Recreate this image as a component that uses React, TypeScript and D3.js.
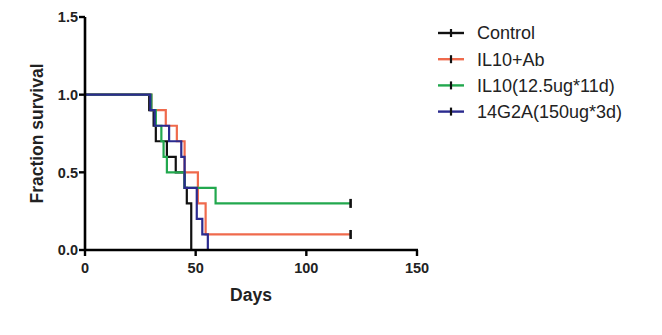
import React from "react";
import * as d3 from "d3";

const seriesNames = ["Control", "IL10+Ab", "IL10(12.5ug*11d)", "14G2A(150ug*3d)"];
const seriesColors = ["#111111", "#ef6a4c", "#22a84e", "#2b2b8f"];

const controlDays = [0, 29, 31, 32, 37, 41, 45, 46, 48];
const controlSurv = [1, 0.9, 0.8, 0.7, 0.6, 0.5, 0.4, 0.3, 0];
const il10AbDays = [0, 30, 36.5, 41.5, 45, 51, 54.5, 120];
const il10AbSurv = [1, 0.9, 0.8, 0.7, 0.5, 0.3, 0.1, 0.1];
const il10Days = [0, 30, 32, 34.5, 35.5, 37, 45, 59, 120];
const il10Surv = [1, 0.9, 0.8, 0.7, 0.6, 0.5, 0.4, 0.3, 0.3];
const g2aDays = [0, 29.5, 31.5, 38, 43.5, 45, 50.5, 53, 55.5];
const g2aSurv = [1, 0.9, 0.8, 0.7, 0.6, 0.4, 0.2, 0.1, 0];

const censored = [false, true, true, false];

const xTicks = [0, 50, 100, 150];
const yTicks = [0, 0.5, 1.0, 1.5];

const W = 662, H = 335;
const left = 85, right = 417, top = 17, bottom = 250;

export default function App() {
  const x = d3.scaleLinear().domain([0, 150]).range([left, right]);
  const y = d3.scaleLinear().domain([0, 1.5]).range([bottom, top]);
  const allDays = [controlDays, il10AbDays, il10Days, g2aDays];
  const allSurv = [controlSurv, il10AbSurv, il10Surv, g2aSurv];
  const line = d3
    .line<[number, number]>()
    .x((d) => x(d[0]))
    .y((d) => y(d[1]))
    .curve(d3.curveStepAfter);
  const font = "Arial, 'Liberation Sans', sans-serif";
  return (
    <svg width={W} height={H} style={{ position: "absolute", left: 0, top: 0 }}>
      <rect width={W} height={H} fill="#fff" />
      {allDays.map((days, i) => {
        const pts = days.map((d, k) => [d, allSurv[i][k]] as [number, number]);
        const last = pts[pts.length - 1];
        return (
          <g key={i}>
            <path d={line(pts) || ""} fill="none" stroke={seriesColors[i]} strokeWidth={2.2} />
            {censored[i] && (
              <line
                x1={x(last[0])}
                x2={x(last[0])}
                y1={y(last[1]) - 4.5}
                y2={y(last[1]) + 4.5}
                stroke="#111"
                strokeWidth={2.6}
              />
            )}
          </g>
        );
      })}
      {/* axes */}
      <line x1={left} x2={left} y1={top} y2={bottom + 1} stroke="#000" strokeWidth={2.6} />
      <line x1={left - 1} x2={right + 1} y1={bottom} y2={bottom} stroke="#000" strokeWidth={2.6} />
      {yTicks.map((t) => (
        <g key={"y" + t}>
          <line x1={left - 6} x2={left} y1={y(t)} y2={y(t)} stroke="#000" strokeWidth={2.4} />
          <text
            x={left - 7}
            y={y(t)}
            dy="0.36em"
            textAnchor="end"
            fontFamily={font}
            fontWeight="bold"
            fontSize={14.5}
            fill="#222"
          >
            {t.toFixed(1)}
          </text>
        </g>
      ))}
      {xTicks.map((t) => (
        <g key={"x" + t}>
          <line x1={x(t)} x2={x(t)} y1={bottom} y2={bottom + 6} stroke="#000" strokeWidth={2.4} />
          <text
            x={x(t)}
            y={bottom + 23}
            textAnchor="middle"
            fontFamily={font}
            fontWeight="bold"
            fontSize={14.5}
            fill="#222"
          >
            {t}
          </text>
        </g>
      ))}
      <text
        x={(left + right) / 2}
        y={301}
        textAnchor="middle"
        fontFamily={font}
        fontWeight="bold"
        fontSize={17.5}
        fill="#222"
      >
        Days
      </text>
      <text
        transform={`translate(43, ${(top + bottom) / 2}) rotate(-90)`}
        textAnchor="middle"
        fontFamily={font}
        fontWeight="bold"
        fontSize={17.5}
        fill="#222"
      >
        Fraction survival
      </text>
      {/* legend */}
      {seriesNames.map((n, i) => {
        const ly = 33 + i * 26.2;
        return (
          <g key={n}>
            <line x1={438} x2={464} y1={ly} y2={ly} stroke={seriesColors[i]} strokeWidth={2.4} />
            <line x1={451} x2={451} y1={ly - 4} y2={ly + 4} stroke="#111" strokeWidth={2.2} />
            <text
              x={477}
              y={ly}
              dy="0.36em"
              fontFamily={font}
              fontSize={18}
              fill="#222"
            >
              {n}
            </text>
          </g>
        );
      })}
    </svg>
  );
}
